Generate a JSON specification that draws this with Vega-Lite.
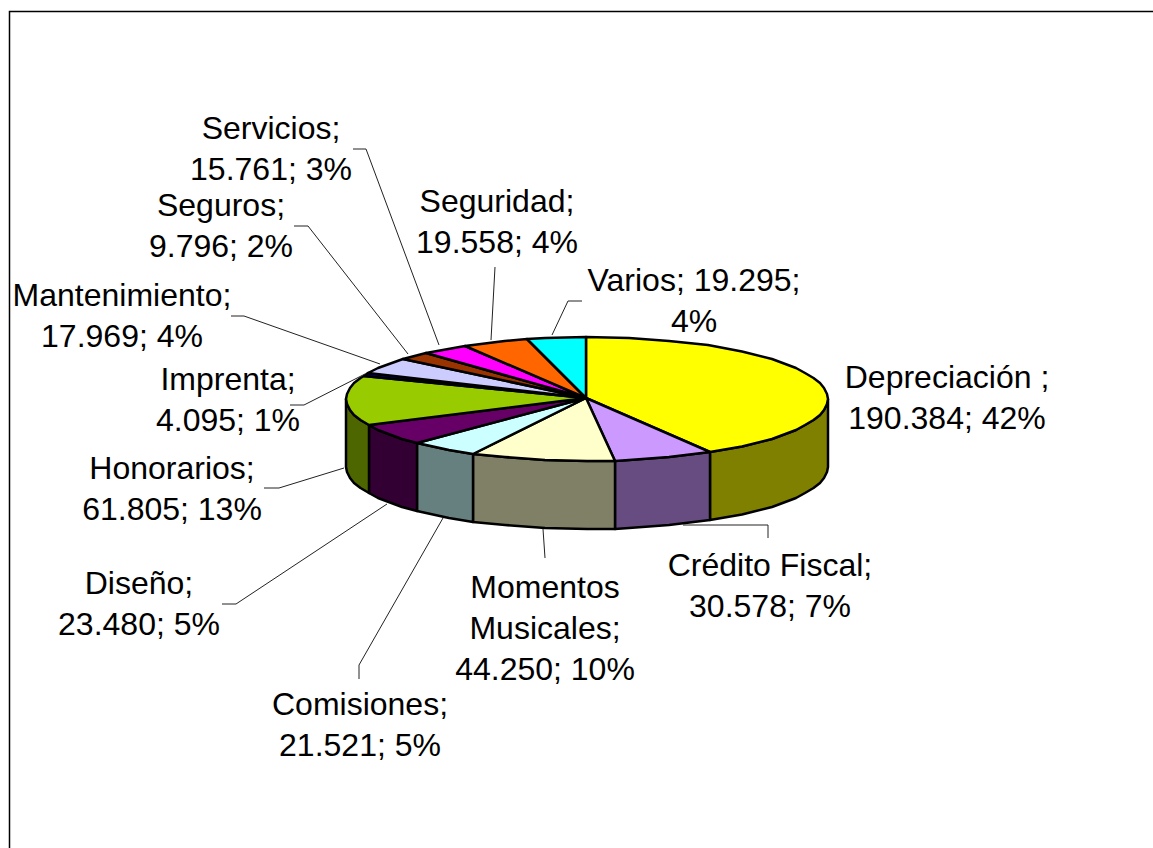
{
"$schema":"https://vega.github.io/schema/vega-lite/v6.json",
"width":1153,"height":848,"padding":0,
"autosize":{"type":"none"},
"background":"white",
"view":{"stroke":null},
"datasets":{
"marco":[{"n":0,"x":9.5,"y":848},{"n":1,"x":9.5,"y":11.5},{"n":2,"x":1153,"y":11.5}],
"lateral":[
{"p":"Depreciación lateral","n":0,"x":828,"y":399},{"p":"Depreciación lateral","n":1,"x":827,"y":404},{"p":"Depreciación lateral","n":2,"x":824,"y":410},{"p":"Depreciación lateral","n":3,"x":820,"y":415},{"p":"Depreciación lateral","n":4,"x":813.5,"y":420},{"p":"Depreciación lateral","n":5,"x":805,"y":425},{"p":"Depreciación lateral","n":6,"x":796,"y":430},{"p":"Depreciación lateral","n":7,"x":772,"y":439},{"p":"Depreciación lateral","n":8,"x":742,"y":446.5},{"p":"Depreciación lateral","n":9,"x":710,"y":452},{"p":"Depreciación lateral","n":10,"x":710,"y":520},{"p":"Depreciación lateral","n":11,"x":742,"y":514.5},{"p":"Depreciación lateral","n":12,"x":772,"y":507},{"p":"Depreciación lateral","n":13,"x":796,"y":498},{"p":"Depreciación lateral","n":14,"x":805,"y":493},{"p":"Depreciación lateral","n":15,"x":813.5,"y":488},{"p":"Depreciación lateral","n":16,"x":820,"y":483},{"p":"Depreciación lateral","n":17,"x":824,"y":478},{"p":"Depreciación lateral","n":18,"x":827,"y":472},{"p":"Depreciación lateral","n":19,"x":828,"y":467},{"p":"Depreciación lateral","n":20,"x":828,"y":399},
{"p":"Crédito lateral","n":0,"x":710,"y":452},{"p":"Crédito lateral","n":1,"x":669,"y":457},{"p":"Crédito lateral","n":2,"x":629,"y":460},{"p":"Crédito lateral","n":3,"x":615,"y":461},{"p":"Crédito lateral","n":4,"x":615,"y":529},{"p":"Crédito lateral","n":5,"x":629,"y":528},{"p":"Crédito lateral","n":6,"x":669,"y":525},{"p":"Crédito lateral","n":7,"x":710,"y":520},{"p":"Crédito lateral","n":8,"x":710,"y":452},
{"p":"Momentos lateral","n":0,"x":615,"y":461},{"p":"Momentos lateral","n":1,"x":587,"y":461},{"p":"Momentos lateral","n":2,"x":545,"y":460},{"p":"Momentos lateral","n":3,"x":505,"y":457},{"p":"Momentos lateral","n":4,"x":473,"y":454},{"p":"Momentos lateral","n":5,"x":473,"y":522},{"p":"Momentos lateral","n":6,"x":505,"y":525},{"p":"Momentos lateral","n":7,"x":545,"y":528},{"p":"Momentos lateral","n":8,"x":587,"y":529},{"p":"Momentos lateral","n":9,"x":615,"y":529},{"p":"Momentos lateral","n":10,"x":615,"y":461},
{"p":"Comisiones lateral","n":0,"x":473,"y":454},{"p":"Comisiones lateral","n":1,"x":449,"y":450},{"p":"Comisiones lateral","n":2,"x":417,"y":443},{"p":"Comisiones lateral","n":3,"x":417,"y":511},{"p":"Comisiones lateral","n":4,"x":449,"y":518},{"p":"Comisiones lateral","n":5,"x":473,"y":522},{"p":"Comisiones lateral","n":6,"x":473,"y":454},
{"p":"Diseño lateral","n":0,"x":417,"y":443},{"p":"Diseño lateral","n":1,"x":402,"y":439},{"p":"Diseño lateral","n":2,"x":378,"y":430},{"p":"Diseño lateral","n":3,"x":369,"y":425},{"p":"Diseño lateral","n":4,"x":369,"y":493},{"p":"Diseño lateral","n":5,"x":378,"y":498},{"p":"Diseño lateral","n":6,"x":402,"y":507},{"p":"Diseño lateral","n":7,"x":417,"y":511},{"p":"Diseño lateral","n":8,"x":417,"y":443},
{"p":"Honorarios lateral","n":0,"x":369,"y":425},{"p":"Honorarios lateral","n":1,"x":360.5,"y":420},{"p":"Honorarios lateral","n":2,"x":354,"y":415},{"p":"Honorarios lateral","n":3,"x":350,"y":410},{"p":"Honorarios lateral","n":4,"x":347,"y":404},{"p":"Honorarios lateral","n":5,"x":346,"y":399},{"p":"Honorarios lateral","n":6,"x":346,"y":467},{"p":"Honorarios lateral","n":7,"x":347,"y":472},{"p":"Honorarios lateral","n":8,"x":350,"y":478},{"p":"Honorarios lateral","n":9,"x":354,"y":483},{"p":"Honorarios lateral","n":10,"x":360.5,"y":488},{"p":"Honorarios lateral","n":11,"x":369,"y":493},{"p":"Honorarios lateral","n":12,"x":369,"y":425}
],
"tapa":[
{"p":"Depreciación","n":0,"x":586,"y":398},{"p":"Depreciación","n":1,"x":586,"y":337},{"p":"Depreciación","n":2,"x":629,"y":338},{"p":"Depreciación","n":3,"x":669,"y":341},{"p":"Depreciación","n":4,"x":708,"y":345},{"p":"Depreciación","n":5,"x":742,"y":351.5},{"p":"Depreciación","n":6,"x":772,"y":359},{"p":"Depreciación","n":7,"x":796,"y":368},{"p":"Depreciación","n":8,"x":805,"y":373},{"p":"Depreciación","n":9,"x":813.5,"y":378},{"p":"Depreciación","n":10,"x":820,"y":383},{"p":"Depreciación","n":11,"x":824,"y":388},{"p":"Depreciación","n":12,"x":827,"y":394},{"p":"Depreciación","n":13,"x":828,"y":399},{"p":"Depreciación","n":14,"x":827,"y":404},{"p":"Depreciación","n":15,"x":824,"y":410},{"p":"Depreciación","n":16,"x":820,"y":415},{"p":"Depreciación","n":17,"x":813.5,"y":420},{"p":"Depreciación","n":18,"x":805,"y":425},{"p":"Depreciación","n":19,"x":796,"y":430},{"p":"Depreciación","n":20,"x":772,"y":439},{"p":"Depreciación","n":21,"x":742,"y":446.5},{"p":"Depreciación","n":22,"x":710,"y":452},{"p":"Depreciación","n":23,"x":586,"y":398},
{"p":"Crédito","n":0,"x":586,"y":398},{"p":"Crédito","n":1,"x":710,"y":452},{"p":"Crédito","n":2,"x":669,"y":457},{"p":"Crédito","n":3,"x":629,"y":460},{"p":"Crédito","n":4,"x":615,"y":461},{"p":"Crédito","n":5,"x":586,"y":398},
{"p":"Momentos","n":0,"x":586,"y":398},{"p":"Momentos","n":1,"x":615,"y":461},{"p":"Momentos","n":2,"x":587,"y":461},{"p":"Momentos","n":3,"x":545,"y":460},{"p":"Momentos","n":4,"x":505,"y":457},{"p":"Momentos","n":5,"x":473,"y":454},{"p":"Momentos","n":6,"x":586,"y":398},
{"p":"Comisiones","n":0,"x":586,"y":398},{"p":"Comisiones","n":1,"x":473,"y":454},{"p":"Comisiones","n":2,"x":449,"y":450},{"p":"Comisiones","n":3,"x":417,"y":443},{"p":"Comisiones","n":4,"x":586,"y":398},
{"p":"Diseño","n":0,"x":586,"y":398},{"p":"Diseño","n":1,"x":417,"y":443},{"p":"Diseño","n":2,"x":402,"y":439},{"p":"Diseño","n":3,"x":378,"y":430},{"p":"Diseño","n":4,"x":369,"y":425},{"p":"Diseño","n":5,"x":586,"y":398},
{"p":"Honorarios","n":0,"x":586,"y":398},{"p":"Honorarios","n":1,"x":369,"y":425},{"p":"Honorarios","n":2,"x":360.5,"y":420},{"p":"Honorarios","n":3,"x":354,"y":415},{"p":"Honorarios","n":4,"x":350,"y":410},{"p":"Honorarios","n":5,"x":347,"y":404},{"p":"Honorarios","n":6,"x":346,"y":399},{"p":"Honorarios","n":7,"x":347,"y":394},{"p":"Honorarios","n":8,"x":350,"y":388},{"p":"Honorarios","n":9,"x":354,"y":383},{"p":"Honorarios","n":10,"x":360.5,"y":378},{"p":"Honorarios","n":11,"x":364,"y":376},{"p":"Honorarios","n":12,"x":586,"y":398},
{"p":"Imprenta","n":0,"x":586,"y":398},{"p":"Imprenta","n":1,"x":364,"y":376},{"p":"Imprenta","n":2,"x":368,"y":373},{"p":"Imprenta","n":3,"x":586,"y":398},
{"p":"Mantenimiento","n":0,"x":586,"y":398},{"p":"Mantenimiento","n":1,"x":368,"y":373},{"p":"Mantenimiento","n":2,"x":378,"y":368},{"p":"Mantenimiento","n":3,"x":403,"y":359},{"p":"Mantenimiento","n":4,"x":586,"y":398},
{"p":"Seguros","n":0,"x":586,"y":398},{"p":"Seguros","n":1,"x":403,"y":359},{"p":"Seguros","n":2,"x":426,"y":353},{"p":"Seguros","n":3,"x":586,"y":398},
{"p":"Servicios","n":0,"x":586,"y":398},{"p":"Servicios","n":1,"x":426,"y":353},{"p":"Servicios","n":2,"x":465,"y":346},{"p":"Servicios","n":3,"x":586,"y":398},
{"p":"Seguridad","n":0,"x":586,"y":398},{"p":"Seguridad","n":1,"x":465,"y":346},{"p":"Seguridad","n":2,"x":504.6,"y":341},{"p":"Seguridad","n":3,"x":527,"y":339},{"p":"Seguridad","n":4,"x":586,"y":398},
{"p":"Varios","n":0,"x":586,"y":398},{"p":"Varios","n":1,"x":527,"y":339},{"p":"Varios","n":2,"x":545,"y":338},{"p":"Varios","n":3,"x":586,"y":337},{"p":"Varios","n":4,"x":586,"y":398}
],
"guias":[
{"p":"Servicios","n":0,"x":353,"y":149},{"p":"Servicios","n":1,"x":366,"y":149},{"p":"Servicios","n":2,"x":439,"y":345},
{"p":"Seguros","n":0,"x":294,"y":226},{"p":"Seguros","n":1,"x":308,"y":226},{"p":"Seguros","n":2,"x":408,"y":354},
{"p":"Mantenimiento","n":0,"x":231,"y":316},{"p":"Mantenimiento","n":1,"x":244,"y":316},{"p":"Mantenimiento","n":2,"x":380,"y":364},
{"p":"Imprenta","n":0,"x":290,"y":405},{"p":"Imprenta","n":1,"x":304,"y":405},{"p":"Imprenta","n":2,"x":365,"y":374},
{"p":"Honorarios","n":0,"x":264,"y":488},{"p":"Honorarios","n":1,"x":279,"y":488},{"p":"Honorarios","n":2,"x":344,"y":468},
{"p":"Diseño","n":0,"x":222,"y":604},{"p":"Diseño","n":1,"x":236,"y":604},{"p":"Diseño","n":2,"x":387,"y":504},
{"p":"Comisiones","n":0,"x":359,"y":679},{"p":"Comisiones","n":1,"x":359,"y":665},{"p":"Comisiones","n":2,"x":443,"y":518},
{"p":"Momentos","n":0,"x":543,"y":529},{"p":"Momentos","n":1,"x":545,"y":558},
{"p":"Crédito","n":0,"x":683,"y":525},{"p":"Crédito","n":1,"x":768,"y":525},{"p":"Crédito","n":2,"x":768,"y":538},
{"p":"Varios","n":0,"x":582,"y":301},{"p":"Varios","n":1,"x":568,"y":301},{"p":"Varios","n":2,"x":552,"y":335},
{"p":"Seguridad","n":0,"x":495,"y":267},{"p":"Seguridad","n":1,"x":491,"y":340}
],
"etiquetas":[
{"concepto":"Depreciación","valor":190384,"pct":42,"t":"Depreciación ;\n190.384; 42%","x":947,"y":388},
{"concepto":"Crédito Fiscal","valor":30578,"pct":7,"t":"Crédito Fiscal;\n30.578; 7%","x":770,"y":576},
{"concepto":"Momentos Musicales","valor":44250,"pct":10,"t":"Momentos\nMusicales;\n44.250; 10%","x":545,"y":598},
{"concepto":"Comisiones","valor":21521,"pct":5,"t":"Comisiones;\n21.521; 5%","x":360,"y":715},
{"concepto":"Diseño","valor":23480,"pct":5,"t":"Diseño;\n23.480; 5%","x":139,"y":594},
{"concepto":"Honorarios","valor":61805,"pct":13,"t":"Honorarios;\n61.805; 13%","x":172,"y":479},
{"concepto":"Imprenta","valor":4095,"pct":1,"t":"Imprenta;\n4.095; 1%","x":228,"y":390},
{"concepto":"Mantenimiento","valor":17969,"pct":4,"t":"Mantenimiento;\n17.969; 4%","x":122,"y":306},
{"concepto":"Seguros","valor":9796,"pct":2,"t":"Seguros;\n9.796; 2%","x":221,"y":216},
{"concepto":"Servicios","valor":15761,"pct":3,"t":"Servicios;\n15.761; 3%","x":271,"y":139},
{"concepto":"Seguridad","valor":19558,"pct":4,"t":"Seguridad;\n19.558; 4%","x":497,"y":212},
{"concepto":"Varios","valor":19295,"pct":4,"t":"Varios; 19.295;\n4%","x":694,"y":291}
]
},
"encoding":{
"x":{"field":"x","type":"quantitative","scale":{"domain":[0,1153],"nice":false,"zero":false},"axis":null},
"y":{"field":"y","type":"quantitative","scale":{"domain":[848,0],"nice":false,"zero":false},"axis":null}
},
"layer":[
{"data":{"name":"marco"},"mark":{"type":"line","stroke":"black","strokeWidth":1.5,"clip":false},"encoding":{"order":{"field":"n"}}},
{"data":{"name":"lateral"},"mark":{"type":"line","filled":true,"stroke":"black","strokeWidth":2.5,"strokeJoin":"round","opacity":1},
 "encoding":{"order":{"field":"n"},"color":{"field":"p","type":"nominal","legend":null,"scale":{"domain":["Depreciación lateral","Crédito lateral","Momentos lateral","Comisiones lateral","Diseño lateral","Honorarios lateral","Depreciación","Crédito","Momentos","Comisiones","Diseño","Honorarios","Imprenta","Mantenimiento","Seguros","Servicios","Seguridad","Varios"],"range":["#808000","#664C80","#808066","#668080","#330033","#4D6600","#FFFF00","#CC99FF","#FFFFCC","#CCFFFF","#660066","#99CC00","#000080","#CCCCFF","#993300","#FF00FF","#FF6600","#00FFFF"]}}}},
{"data":{"name":"tapa"},"mark":{"type":"line","filled":true,"stroke":"black","strokeWidth":2.5,"strokeJoin":"round","opacity":1},
 "encoding":{"order":{"field":"n"},"color":{"field":"p","type":"nominal","legend":null}}},
{"data":{"name":"guias"},"mark":{"type":"line","stroke":"#222222","strokeWidth":1},"encoding":{"order":{"field":"n"},"detail":{"field":"p"}}},
{"data":{"name":"etiquetas"},"mark":{"type":"text","font":"Liberation Sans","fontSize":32,"align":"center","baseline":"alphabetic","lineBreak":"\n","lineHeight":41,"color":"black"},"encoding":{"text":{"field":"t"}}}
]
}
